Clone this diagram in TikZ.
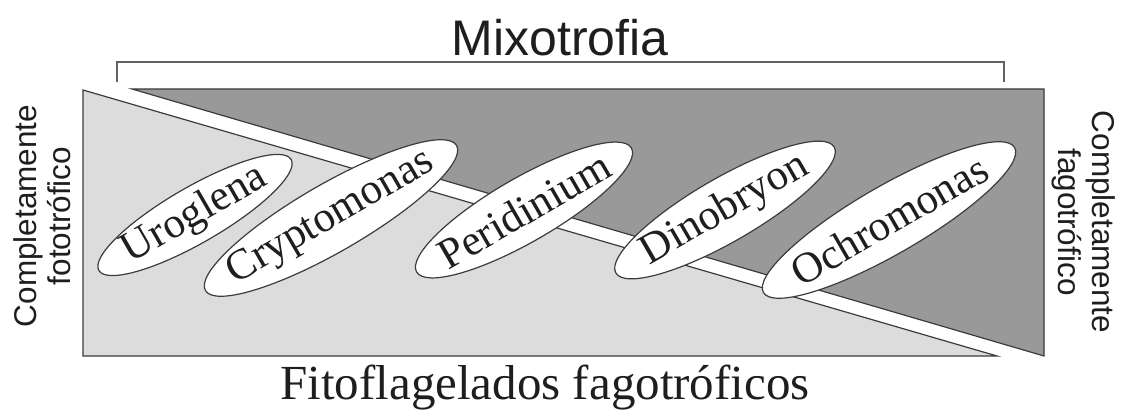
\documentclass[tikz,border=0pt]{standalone}
\usepackage{fontspec}
\setmainfont{Liberation Serif}
\setsansfont{Liberation Sans}
\usetikzlibrary{shapes.geometric}
\definecolor{lightfill}{HTML}{DCDCDC}
\definecolor{darkfill}{HTML}{999999}
\definecolor{edge}{HTML}{3C3C3C}
\definecolor{ink}{HTML}{1E1E1E}
\begin{document}
\begin{tikzpicture}[x=1pt,y=-1pt,
  organism/.style={ellipse, draw=edge, line width=1.2pt, fill=white, inner sep=0pt, outer sep=0pt, rotate=30},
  orgname/.style={rotate=30, inner sep=0pt, text=ink, font=\fontsize{43}{43}\selectfont},
  tri/.style={draw=edge, line width=1.2pt, line join=miter},
  sidelabel/.style={font=\sffamily\fontsize{31.5}{34}\selectfont, align=center, text=ink, inner sep=0pt},
  bracketline/.style={draw=edge!80, line width=1.4pt}]
\useasboundingbox (0,0) rectangle (1126,419);
% triangles
\coordinate (lt) at (83,90);
\coordinate (lb) at (83,356);
\coordinate (lr) at (997,356);
\coordinate (dl) at (132,89);
\coordinate (dt) at (1044,89);
\coordinate (db) at (1044,356);
\path[tri, fill=lightfill] (lt) -- (lb) -- (lr) -- cycle;
\path[tri, fill=darkfill] (dl) -- (dt) -- (db) -- cycle;
% bracket
\coordinate (bl) at (117,82);
\coordinate (blt) at (117,62);
\coordinate (brt) at (1004,62);
\coordinate (br) at (1004,82);
\draw[bracketline] (bl) -- (blt) -- (brt) -- (br);
% organisms
\node[organism, minimum width=222pt, minimum height=56pt] (uro) at (195,215) {};
\node[orgname] (urot) at (uro.center) {Uroglena};
\node[organism, minimum width=290pt, minimum height=68pt] (cry) at (331,218) {};
\node[orgname] (cryt) at (cry.center) {Cryptomonas};
\node[organism, minimum width=248pt, minimum height=64pt] (per) at (524,210) {};
\node[orgname] (pert) at (per.center) {Peridinium};
\node[organism, minimum width=252pt, minimum height=64pt] (din) at (725,210) {};
\node[orgname] (dint) at (din.center) {Dinobryon};
\node[organism, minimum width=290pt, minimum height=68pt] (och) at (889,220) {};
\node[orgname] (ocht) at (och.center) {Ochromonas};
% labels
\node[font=\sffamily\fontsize{50}{50}\selectfont, text=ink] (title) at (560,38) {Mixotrofia};
\node[sidelabel, rotate=90] (left) at (42,216) {Completamente\\fototrófico};
\node[sidelabel, rotate=-90] (right) at (1084,222) {Completamente\\fagotrófico};
\node[font=\fontsize{49}{49}\selectfont, text=ink] (bottom) at (545,388) {Fitoflagelados fagotróficos};
\end{tikzpicture}
\end{document}
